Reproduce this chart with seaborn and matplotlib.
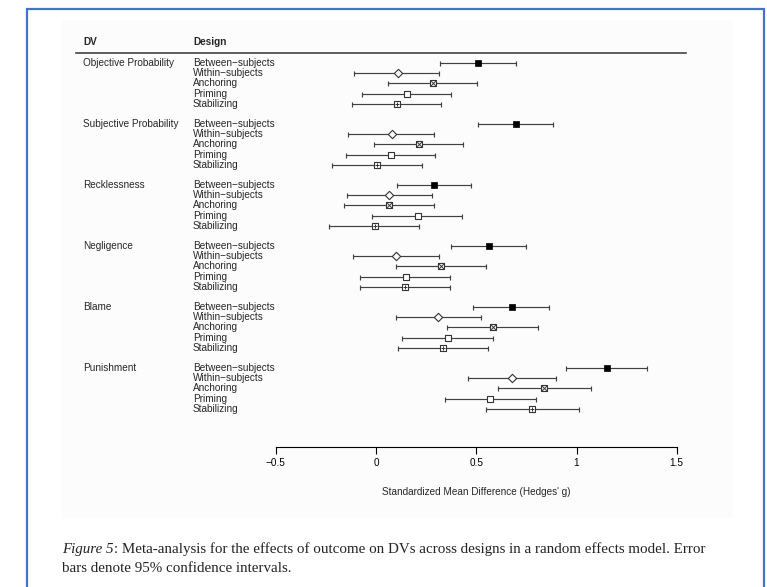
import matplotlib
matplotlib.use('Agg')
import matplotlib.pyplot as plt
import numpy as np
import pandas as pd
import seaborn as sns
from matplotlib.patches import Rectangle

sns.set_style('white')
plt.rcParams['font.family'] = ['Liberation Sans', 'DejaVu Sans']

# Datos (Hedges' g e IC 95%)
dvs = ['Objective Probability', 'Subjective Probability', 'Recklessness',
       'Negligence', 'Blame', 'Punishment']
designs = ['Between\u2212subjects', 'Within\u2212subjects', 'Anchoring',
           'Priming', 'Stabilizing']

# una fila por DV, columnas en el orden de designs
g_est = [[0.51, 0.11, 0.285, 0.155, 0.105],
         [0.70, 0.08, 0.215, 0.075, 0.005],
         [0.29, 0.065, 0.065, 0.21, -0.005],
         [0.565, 0.10, 0.325, 0.15, 0.145],
         [0.68, 0.31, 0.585, 0.36, 0.335],
         [1.15, 0.68, 0.84, 0.57, 0.78]]
ci_low = [[0.32, -0.11, 0.06, -0.07, -0.12],
          [0.51, -0.14, -0.01, -0.15, -0.22],
          [0.105, -0.145, -0.16, -0.02, -0.235],
          [0.375, -0.115, 0.10, -0.08, -0.08],
          [0.485, 0.10, 0.355, 0.13, 0.11],
          [0.95, 0.46, 0.61, 0.345, 0.55]]
ci_high = [[0.70, 0.315, 0.505, 0.375, 0.325],
           [0.885, 0.29, 0.435, 0.295, 0.23],
           [0.475, 0.28, 0.29, 0.43, 0.215],
           [0.75, 0.315, 0.55, 0.37, 0.37],
           [0.865, 0.525, 0.81, 0.585, 0.56],
           [1.35, 0.90, 1.07, 0.80, 1.01]]
x_ticks = [-0.5, 0, 0.5, 1, 1.5]
x_ticklabels = ['\u22120.5', '0', '0.5', '1', '1.5']

rows = []
for i, dv in enumerate(dvs):
    for j, des in enumerate(designs):
        rows.append({'dv': dv, 'design': des, 'g': g_est[i][j],
                     'lo': ci_low[i][j], 'hi': ci_high[i][j],
                     'row': i * 6 + j})
df = pd.DataFrame(rows)

W, H = 767, 587
fig = plt.figure(figsize=(W / 100, H / 100), dpi=100)
fig.patch.set_facecolor('white')

# marco azul y panel gris claro
fig.patches.append(Rectangle((27 / W, -0.05), (764 - 27) / W, 1.05 - 9 / H,
                             transform=fig.transFigure, fill=False,
                             edgecolor='#4472c4', linewidth=1.6, zorder=-1))
fig.patches.append(Rectangle((62 / W, (H - 518) / H), (733 - 62) / W, (518 - 20) / H,
                             transform=fig.transFigure, facecolor='#fcfcfc',
                             edgecolor='none', zorder=-2))

ax = fig.add_axes([76 / W, (H - 447) / H, 610 / W, (447 - 53) / H])
ax.patch.set_alpha(0)

ax.errorbar(df['g'], df['row'], xerr=[df['g'] - df['lo'], df['hi'] - df['g']],
            fmt='none', ecolor='#404040', elinewidth=0.85, capsize=1.8, capthick=0.85)

def sub(d):
    return df[df['design'] == d]

sns.scatterplot(data=sub(designs[0]), x='g', y='row', marker='s', color='black',
                edgecolor='black', linewidth=0.5, s=16, ax=ax, zorder=3)
sns.scatterplot(data=sub(designs[1]), x='g', y='row', marker='D', color='white',
                edgecolor='#333333', linewidth=0.8, s=18, ax=ax, zorder=3)
for d, inner in [(designs[2], 'x'), (designs[3], None), (designs[4], '+')]:
    sns.scatterplot(data=sub(d), x='g', y='row', marker='s', color='white',
                    edgecolor='#333333', linewidth=0.8, s=19, ax=ax, zorder=3)
    if inner:
        sns.scatterplot(data=sub(d), x='g', y='row', marker=inner, color='#333333',
                        linewidth=0.7, s=12, ax=ax, zorder=4)

ax.set_xlim(-300 / 200.5, 310 / 200.5)
ax.set_ylim((447 - 63) / 10.17, (53 - 63) / 10.17)
ax.set_yticks([])
ax.set_xticks(x_ticks)
ax.set_xticklabels(x_ticklabels, fontsize=7.2)
ax.tick_params(axis='x', direction='out', length=5, width=0.8, pad=3,
               bottom=True, colors='black')
for s in ['left', 'right']:
    ax.spines[s].set_visible(False)
ax.spines['top'].set_color('#444444')
ax.spines['top'].set_linewidth(1.2)
ax.spines['bottom'].set_bounds(-0.5, 1.5)
ax.spines['bottom'].set_color('black')
ax.spines['bottom'].set_linewidth(0.8)
ax.set_xlabel("Standardized Mean Difference (Hedges' g)", fontsize=7.2)
ax.xaxis.set_label_coords((476 - 76) / 610, -(487 - 447) / 394)
ax.set_ylabel('')

# etiquetas de texto
trans = ax.get_yaxis_transform()
ax.text(7 / 610, -2.07, 'DV', transform=trans, fontsize=7.2, fontweight='bold',
        va='center', ha='left', clip_on=False)
ax.text(117 / 610, -2.07, 'Design', transform=trans, fontsize=7.2, fontweight='bold',
        va='center', ha='left', clip_on=False)
for i, dv in enumerate(dvs):
    ax.text(7 / 610, i * 6, dv, transform=trans, fontsize=7.2, va='center',
            ha='left', clip_on=False)
for _, r in df.iterrows():
    ax.text(117 / 610, r['row'], r['design'], transform=trans, fontsize=7.2,
            va='center', ha='left', clip_on=False)

# pie de figura
cap_kw = dict(family='Liberation Serif', fontsize=10.8, color='#222222',
              va='center', ha='left')
t1 = fig.text(62 / W, (H - 549) / H, 'Figure 5', style='italic', **cap_kw)
ax.annotate(': Meta-analysis for the effects of outcome on DVs across designs in a '
            'random effects model. Error', xy=(1, 0.5), xycoords=t1,
            annotation_clip=False, **cap_kw)
fig.text(62 / W, (H - 568) / H, 'bars denote 95% confidence intervals.', **cap_kw)

fig.savefig('out.png', dpi=100)
